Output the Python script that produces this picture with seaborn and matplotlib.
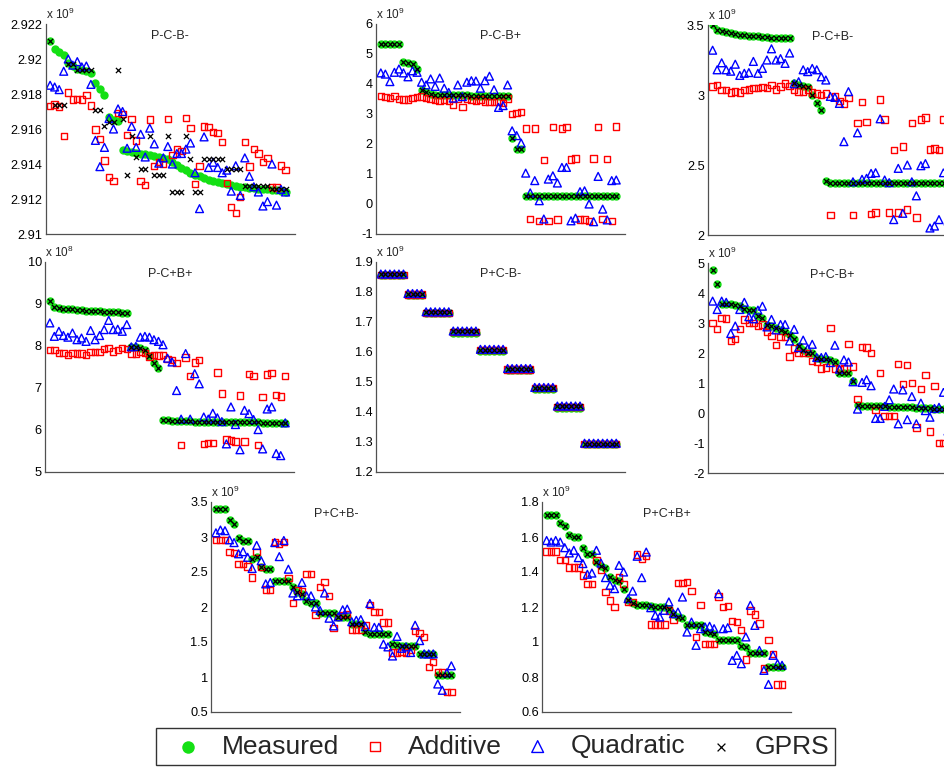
import numpy as np
import pandas as pd
import matplotlib
matplotlib.use('Agg')
import matplotlib.pyplot as plt
import seaborn as sns
from matplotlib.ticker import FuncFormatter

# configuration index on the x axis (53 configurations per panel)
config_index = list(range(1, 54))

# ---- P-C-B- (x 10^9) ----
meas1 = [2.92104, 2.92060, 2.92041, 2.92022, 2.91978, 2.91959, 2.91945, 2.91936, 2.91930, 2.91922,
         2.91863, 2.91830, 2.91792, 2.91668, 2.91653, 2.91645, 2.91480, 2.91475, 2.91470, 2.91465,
         2.91460, 2.91455, 2.91450, 2.91445, 2.91440, 2.91433, 2.91428, 2.91410, 2.91395, 2.91380,
         2.91365, 2.91350, 2.91340, 2.91330, 2.91320, 2.91310, 2.91305, 2.91300, 2.91290, 2.91285,
         2.91280, 2.91275, 2.91270, 2.91270, 2.91265, 2.91265, 2.91260, 2.91260, 2.91255, 2.91250,
         2.91250, 2.91245, 2.91240]
add1 = [2.91733, 2.91739, 2.91729, 2.91559, 2.91808, 2.91769, 2.91773, 2.91768, 2.91796, 2.91735,
        2.91597, 2.91544, 2.91419, 2.91324, 2.91304, 2.91693, 2.91685, 2.91567, 2.91657, 2.91534,
        2.91304, 2.91280, 2.91655, 2.91390, 2.91410, 2.91400, 2.91657, 2.91452, 2.91482, 2.91473,
        2.91664, 2.91607, 2.91285, 2.91387, 2.91614, 2.91610, 2.91582, 2.91576, 2.91524, 2.91293,
        2.91155, 2.91120, 2.91210, 2.91526, 2.91385, 2.91484, 2.91461, 2.91410, 2.91436, 2.91270,
        2.91266, 2.91392, 2.91366]
quad1 = [2.91850, 2.91840, 2.91825, 2.91930, 2.92000, 2.91965, 2.91985, 2.91955, 2.91960, 2.91855,
         2.91535, 2.91385, 2.91495, 2.91660, 2.91600, 2.91715, 2.91700, 2.91490, 2.91615, 2.91495,
         2.91570, 2.91440, 2.91605, 2.91515, 2.91405, 2.91435, 2.91500, 2.91400, 2.91460, 2.91460,
         2.91485, 2.91520, 2.91350, 2.91145, 2.91555, 2.91380, 2.91410, 2.91380, 2.91350, 2.91365,
         2.91245, 2.91390, 2.91220, 2.91435, 2.91330, 2.91270, 2.91240, 2.91160, 2.91185, 2.91400,
         2.91165, 2.91255, 2.91240]
gprs1 = [2.92104, 2.91735, 2.91735, 2.91735, 2.91970, 2.91970, 2.91935, 2.91935, 2.91935, 2.91935,
         2.91710, 2.91710, 2.91620, 2.91640, 2.91640, 2.91935, 2.91660, 2.91340, 2.91560, 2.91440,
         2.91370, 2.91370, 2.91560, 2.91340, 2.91340, 2.91340, 2.91560, 2.91240, 2.91240, 2.91240,
         2.91560, 2.91430, 2.91240, 2.91240, 2.91430, 2.91430, 2.91430, 2.91430, 2.91430, 2.91370,
         2.91370, 2.91370, 2.91370, 2.91275, 2.91275, 2.91275, 2.91275, 2.91275, 2.91275, 2.91255,
         2.91255, 2.91255, 2.91255]

# ---- P-C-B+ (x 10^9) ----
meas2 = [5.33, 5.33, 5.33, 5.33, 5.33, 4.72, 4.71, 4.66, 4.50, 3.81,
         3.72, 3.67, 3.64, 3.64, 3.63, 3.63, 3.63, 3.62, 3.62, 3.62,
         3.61, 3.61, 3.61, 3.60, 3.60, 3.60, 3.59, 3.59, 3.59, 2.19,
         1.83, 1.83, 0.26, 0.26, 0.26, 0.26, 0.26, 0.26, 0.26, 0.26,
         0.26, 0.26, 0.26, 0.26, 0.26, 0.26, 0.26, 0.26, 0.26, 0.26,
         0.26, 0.26, 0.26]
add2 = [3.59, 3.56, 3.53, 3.59, 3.50, 3.48, 3.48, 3.53, 3.56, 3.58,
        3.53, 3.50, 3.47, 3.44, 3.47, 3.44, 3.30, 3.50, 3.24, 3.50,
        3.47, 3.44, 3.48, 3.42, 3.39, 3.39, 3.42, 3.37, 3.52, 3.00,
        3.03, 3.06, 2.52, -0.50, 2.52, -0.56, 1.47, -0.56, 2.56, -0.52,
        2.52, 2.56, 1.48, 1.52, -0.52, -0.52, -0.56, 1.52, 2.56, -0.50,
        1.50, -0.56, 2.58]
quad2 = [4.37, 4.33, 4.08, 4.39, 4.50, 4.37, 4.24, 4.44, 4.39, 4.06,
         3.97, 4.17, 3.92, 4.20, 3.86, 3.72, 3.53, 3.97, 3.58, 4.06,
         4.11, 4.10, 3.86, 4.11, 4.26, 3.81, 3.22, 3.28, 3.97, 2.44,
         2.28, 2.03, 1.03, 0.37, 0.78, 0.11, -0.50, 0.83, 0.94, 0.70,
         1.22, 1.22, -0.56, -0.47, 0.41, 0.44, 0.00, -0.59, 0.92, -0.17,
         -0.53, 0.78, 0.80]
gprs2 = meas2  # GPRS sits on the measured values here

# ---- P-C+B- (x 10^9) ----
meas3 = [3.500, 3.464, 3.457, 3.448, 3.440, 3.436, 3.432, 3.428, 3.425, 3.420,
         3.418, 3.415, 3.413, 3.410, 3.410, 3.408, 3.406, 3.405, 3.088, 3.071,
         3.064, 3.060, 3.000, 2.945, 2.890, 2.386, 2.370, 2.370, 2.370, 2.370,
         2.370, 2.370, 2.370, 2.370, 2.370, 2.370, 2.370, 2.370, 2.370, 2.370,
         2.370, 2.370, 2.370, 2.370, 2.370, 2.370, 2.370, 2.370, 2.370, 2.370,
         2.370, 2.370, 2.370]
add3 = [3.060, 3.070, 3.036, 3.036, 3.017, 3.024, 3.017, 3.036, 3.040, 3.048,
        3.048, 3.055, 3.048, 3.070, 3.040, 3.060, 3.083, 3.064, 3.036, 3.024,
        3.024, 3.040, 3.017, 3.012, 3.000, 3.012, 2.143, 2.988, 2.957, 2.940,
        2.980, 2.143, 2.798, 2.952, 2.805, 2.148, 2.160, 2.969, 2.826, 2.160,
        2.607, 2.160, 2.631, 2.183, 2.802, 2.126, 2.826, 2.838, 2.612, 2.619,
        2.607, 2.826, 2.620]
quad3 = [3.320, 3.180, 3.230, 3.180, 3.170, 3.220, 3.140, 3.155, 3.160, 3.240,
         3.155, 3.190, 3.250, 3.330, 3.250, 3.260, 3.226, 3.300, 3.080, 3.095,
         3.180, 3.167, 3.190, 3.180, 3.130, 3.107, 2.990, 2.983, 2.940, 2.667,
         3.024, 2.380, 2.730, 2.398, 2.405, 2.440, 2.445, 2.830, 2.393, 2.374,
         2.110, 2.476, 2.155, 2.500, 2.380, 2.280, 2.495, 2.510, 2.050, 2.064,
         2.110, 2.445, 2.100]
gprs3 = meas3

# ---- P-C+B+ (x 10^8) ----
meas4 = [9.06, 8.93, 8.90, 8.89, 8.87, 8.89, 8.85, 8.85, 8.84, 8.84,
         8.83, 8.83, 8.82, 8.81, 8.80, 8.80, 8.79, 8.78, 7.98, 7.98,
         7.95, 7.90, 7.77, 7.60, 7.48, 6.25, 6.23, 6.22, 6.22, 6.21,
         6.21, 6.21, 6.20, 6.20, 6.20, 6.20, 6.19, 6.19, 6.19, 6.19,
         6.19, 6.18, 6.18, 6.18, 6.18, 6.18, 6.18, 6.17, 6.17, 6.17,
         6.17, 6.17, 6.17]
add4 = [7.91, 7.91, 7.83, 7.83, 7.79, 7.83, 7.82, 7.82, 7.79, 7.85,
        7.86, 7.86, 7.93, 7.95, 7.87, 7.91, 7.95, 7.93, 7.82, 7.82,
        7.85, 7.83, 7.75, 7.79, 7.77, 7.79, 7.69, 7.66, 7.60, 5.65,
        7.73, 7.29, 7.61, 7.67, 5.67, 5.69, 5.69, 7.37, 6.87, 5.77,
        5.75, 5.73, 6.82, 5.73, 7.34, 7.29, 5.65, 6.79, 7.32, 7.36,
        6.84, 6.80, 7.28]
quad4 = [8.55, 8.23, 8.35, 8.25, 8.21, 8.31, 8.15, 8.19, 8.11, 8.37,
         8.15, 8.25, 8.39, 8.61, 8.39, 8.40, 8.35, 8.51, 7.98, 7.99,
         8.21, 8.23, 8.21, 8.15, 8.11, 8.03, 7.71, 7.62, 6.94, 6.26,
         7.82, 6.26, 7.34, 7.10, 6.31, 6.26, 6.40, 6.29, 6.20, 5.67,
         6.55, 6.13, 5.53, 6.47, 6.39, 6.25, 6.01, 5.55, 6.50, 6.55,
         5.44, 5.39, 6.17]
gprs4 = meas4

# ---- P+C-B- (x 10^9), staircase where all four agree ----
meas5 = [1.856, 1.856, 1.856, 1.856, 1.856, 1.856, 1.791, 1.791, 1.791, 1.791,
         1.729, 1.729, 1.729, 1.729, 1.729, 1.729, 1.665, 1.665, 1.665, 1.665,
         1.665, 1.665, 1.604, 1.604, 1.604, 1.604, 1.604, 1.604, 1.540, 1.540,
         1.540, 1.540, 1.540, 1.540, 1.477, 1.477, 1.477, 1.477, 1.477, 1.415,
         1.415, 1.415, 1.415, 1.415, 1.415, 1.292, 1.292, 1.292, 1.292, 1.292,
         1.292, 1.292, 1.292]
add5 = [1.857, 1.857, 1.857, 1.857, 1.857, 1.857, 1.792, 1.792, 1.792, 1.792,
        1.731, 1.731, 1.731, 1.731, 1.731, 1.731, 1.667, 1.667, 1.667, 1.667,
        1.667, 1.667, 1.606, 1.606, 1.606, 1.606, 1.606, 1.606, 1.542, 1.542,
        1.542, 1.542, 1.542, 1.542, 1.479, 1.479, 1.479, 1.479, 1.479, 1.417,
        1.417, 1.417, 1.417, 1.417, 1.417, 1.293, 1.293, 1.293, 1.293, 1.293,
        1.293, 1.293, 1.293]
quad5 = [1.860, 1.860, 1.860, 1.860, 1.860, 1.860, 1.795, 1.795, 1.795, 1.795,
         1.734, 1.734, 1.734, 1.734, 1.734, 1.734, 1.670, 1.670, 1.670, 1.670,
         1.670, 1.670, 1.609, 1.609, 1.609, 1.609, 1.609, 1.609, 1.545, 1.545,
         1.545, 1.545, 1.545, 1.545, 1.482, 1.482, 1.482, 1.482, 1.482, 1.420,
         1.420, 1.420, 1.420, 1.420, 1.420, 1.296, 1.296, 1.296, 1.296, 1.296,
         1.296, 1.296, 1.296]
gprs5 = [1.859, 1.859, 1.859, 1.859, 1.859, 1.859, 1.794, 1.794, 1.794, 1.794,
         1.733, 1.733, 1.733, 1.733, 1.733, 1.733, 1.669, 1.669, 1.669, 1.669,
         1.669, 1.669, 1.608, 1.608, 1.608, 1.608, 1.608, 1.608, 1.544, 1.544,
         1.544, 1.544, 1.544, 1.544, 1.481, 1.481, 1.481, 1.481, 1.481, 1.419,
         1.419, 1.419, 1.419, 1.419, 1.419, 1.294, 1.294, 1.294, 1.294, 1.294,
         1.294, 1.294, 1.294]

# ---- P+C-B+ (x 10^9) ----
meas6 = [4.76, 4.30, 3.65, 3.62, 3.62, 3.60, 3.56, 3.47, 3.45, 3.42,
         3.25, 3.17, 2.95, 2.90, 2.84, 2.77, 2.71, 2.59, 2.46, 2.23,
         2.10, 2.01, 2.01, 1.85, 1.79, 1.79, 1.77, 1.70, 1.33, 1.33,
         1.33, 1.07, 0.27, 0.24, 0.24, 0.23, 0.23, 0.22, 0.22, 0.21,
         0.21, 0.20, 0.20, 0.19, 0.19, 0.18, 0.17, 0.17, 0.16, 0.15,
         0.14, 0.14, 0.13]
add6 = [2.99, 2.81, 3.17, 3.15, 2.40, 2.46, 2.79, 3.12, 3.01, 3.01,
        2.90, 2.95, 2.70, 2.57, 2.26, 2.54, 2.54, 1.88, 2.15, 2.01,
        1.99, 1.99, 1.74, 1.70, 1.48, 1.52, 2.84, 1.48, 1.46, 1.48,
        2.29, 1.55, 0.46, 2.21, 2.18, 2.01, 0.11, 1.33, -0.09, -0.09,
        -0.09, 1.63, 0.96, 1.59, 1.00, -0.48, 0.80, 1.26, -0.62, 0.91,
        -1.01, -1.01, -0.95]
quad6 = [3.73, 3.45, 3.73, 3.69, 2.65, 2.90, 3.45, 3.69, 3.21, 3.14,
         3.43, 3.56, 2.87, 3.12, 2.77, 2.95, 2.95, 2.40, 2.79, 2.18,
         2.43, 2.15, 2.29, 1.85, 1.85, 1.88, 1.68, 2.26, 1.46, 1.77,
         1.70, 1.04, 0.13, 1.02, 1.11, 0.91, -0.18, -0.18, 0.22, 0.44,
         0.80, -0.36, 0.77, -0.22, 0.55, -0.36, 0.33, 0.08, -0.14, 0.15,
         0.19, 0.69, -0.60]
gprs6 = meas6

# ---- P+C+B- (x 10^9) ----
meas7 = [3.40, 3.40, 3.40, 3.24, 3.18, 2.98, 2.95, 2.94, 2.69, 2.71,
         2.57, 2.54, 2.54, 2.37, 2.37, 2.37, 2.37, 2.28, 2.22, 2.19,
         2.08, 2.06, 2.06, 1.92, 1.92, 1.92, 1.92, 1.86, 1.86, 1.86,
         1.76, 1.76, 1.76, 1.65, 1.62, 1.62, 1.62, 1.62, 1.62, 1.47,
         1.46, 1.44, 1.44, 1.44, 1.44, 1.33, 1.33, 1.33, 1.33, 1.03,
         1.03, 1.03, 1.03]
add7 = [2.96, 2.96, 2.96, 2.79, 2.77, 2.61, 2.61, 2.58, 2.42, 2.79,
        2.57, 2.25, 2.24, 2.93, 2.90, 2.93, 2.41, 2.06, 2.24, 2.22,
        2.47, 2.47, 1.89, 2.29, 2.36, 2.16, 1.70, 1.86, 1.89, 1.90,
        1.68, 1.68, 1.68, 1.74, 2.03, 1.93, 1.93, 1.78, 1.78, 1.35,
        1.35, 1.36, 1.35, 1.39, 1.66, 1.63, 1.57, 1.14, 1.21, 1.07,
        1.07, 0.79, 0.79]
quad7 = [3.06, 3.10, 3.09, 2.96, 2.92, 2.76, 2.79, 2.71, 2.55, 2.88,
         2.66, 2.33, 2.35, 2.92, 2.72, 2.95, 2.54, 2.20, 2.16, 2.35,
         2.16, 2.16, 2.00, 1.95, 2.20, 1.84, 1.73, 1.86, 1.96, 1.97,
         1.79, 1.81, 1.82, 1.72, 2.05, 1.71, 1.71, 1.47, 1.43, 1.30,
         1.58, 1.41, 1.43, 1.35, 1.74, 1.52, 1.33, 1.33, 1.33, 0.90,
         0.81, 1.06, 1.16]
gprs7 = meas7

# ---- P+C+B+ (x 10^9) ----
meas8 = [1.724, 1.724, 1.724, 1.680, 1.661, 1.610, 1.600, 1.600, 1.539, 1.505,
         1.501, 1.457, 1.432, 1.425, 1.371, 1.352, 1.347, 1.305, 1.238, 1.223,
         1.210, 1.210, 1.210, 1.204, 1.200, 1.200, 1.200, 1.190, 1.158, 1.143,
         1.139, 1.095, 1.095, 1.095, 1.095, 1.057, 1.051, 1.048, 1.013, 1.013,
         1.013, 1.013, 1.013, 0.975, 0.971, 0.937, 0.937, 0.937, 0.937, 0.857,
         0.857, 0.857, 0.857]
add8 = [1.518, 1.518, 1.518, 1.470, 1.467, 1.425, 1.425, 1.425, 1.381, 1.333,
        1.330, 1.470, 1.410, 1.286, 1.238, 1.200, 1.371, 1.330, 1.229, 1.229,
        1.501, 1.476, 1.490, 1.101, 1.101, 1.101, 1.101, 1.181, 1.124, 1.337,
        1.337, 1.343, 1.291, 1.029, 1.210, 0.987, 0.987, 0.990, 1.261, 1.200,
        1.204, 1.120, 1.114, 1.067, 0.900, 1.181, 1.158, 1.105, 0.848, 1.013,
        0.930, 0.758, 0.758]
quad8 = [1.580, 1.571, 1.580, 1.571, 1.539, 1.509, 1.524, 1.482, 1.448, 1.387,
         1.394, 1.524, 1.451, 1.368, 1.324, 1.305, 1.438, 1.400, 1.248, 1.291,
         1.490, 1.368, 1.514, 1.196, 1.152, 1.143, 1.181, 1.229, 1.162, 1.171,
         1.257, 1.057, 1.114, 0.981, 1.076, 1.086, 1.090, 1.076, 1.276, 1.076,
         1.082, 0.895, 0.924, 0.876, 1.029, 1.210, 1.095, 0.952, 0.838, 0.758,
         0.924, 0.876, 0.867]
gprs8 = meas8

titles = ['P-C-B-', 'P-C-B+', 'P-C+B-', 'P-C+B+', 'P+C-B-', 'P+C-B+', 'P+C+B-', 'P+C+B+']
exponents = [9, 9, 9, 8, 9, 9, 9, 9]
y_ticks = [
    [2.91, 2.912, 2.914, 2.916, 2.918, 2.92, 2.922],
    [-1, 0, 1, 2, 3, 4, 5, 6],
    [2, 2.5, 3, 3.5],
    [5, 6, 7, 8, 9, 10],
    [1.2, 1.3, 1.4, 1.5, 1.6, 1.7, 1.8, 1.9],
    [-2, -1, 0, 1, 2, 3, 4, 5],
    [0.5, 1, 1.5, 2, 2.5, 3, 3.5],
    [0.6, 0.8, 1, 1.2, 1.4, 1.6, 1.8],
]
panel_series = [
    (meas1, add1, quad1, gprs1), (meas2, add2, quad2, gprs2),
    (meas3, add3, quad3, gprs3), (meas4, add4, quad4, gprs4),
    (meas5, add5, quad5, gprs5), (meas6, add6, quad6, gprs6),
    (meas7, add7, quad7, gprs7), (meas8, add8, quad8, gprs8),
]

sns.set_style('white')
plt.rcParams['font.family'] = ['Liberation Sans', 'DejaVu Sans']
plt.rcParams['mathtext.default'] = 'regular'

W, H = 945, 769
fig = plt.figure(figsize=(W / 100, H / 100), dpi=100)

# top-left corners of each axes in pixels (MATLAB subplot grid, last row centred)
corners = [(45.6, 24), (376.3, 24), (708.1, 25),
           (45.3, 262), (376.3, 262), (708.1, 263),
           (211.4, 502), (542.1, 502)]
ax_w, ax_h = 249, 210

green = '#14e014'
axis_grey = '#505050'
fmt = FuncFormatter(lambda v, pos: '%g' % round(v, 6))

for k, (title, series) in enumerate(zip(titles, panel_series)):
    left, top = corners[k]
    ax = fig.add_axes([left / W, 1 - (top + ax_h) / H, ax_w / W, ax_h / H])
    df = pd.DataFrame({'config': config_index, 'Measured': series[0], 'Additive': series[1],
                       'Quadratic': series[2], 'GPRS': series[3]})

    sns.scatterplot(data=df, x='config', y='Measured', ax=ax, marker='o', s=36,
                    color=green, edgecolor=green, linewidth=0, label='Measured', legend=False)
    sns.scatterplot(data=df, x='config', y='Additive', ax=ax, marker='s', s=21,
                    color='red', facecolor='none', edgecolor='red', linewidth=1.0,
                    label='Additive', legend=False)
    sns.scatterplot(data=df, x='config', y='Quadratic', ax=ax, marker='^', s=32,
                    color='blue', facecolor='none', edgecolor='blue', linewidth=1.0,
                    label='Quadratic', legend=False)
    sns.scatterplot(data=df, x='config', y='GPRS', ax=ax, marker='x', s=14,
                    color='black', linewidth=0.9, label='GPRS', legend=False)

    yt = y_ticks[k]
    ax.set_xlim(0, 55)
    ax.set_ylim(yt[0], yt[-1])
    ax.set_xticks([10, 20, 30, 40, 50])
    ax.set_yticks(yt)
    ax.yaxis.set_major_formatter(fmt)
    ax.set_xlabel('')
    ax.set_ylabel('')
    ax.tick_params(axis='x', direction='in', length=4, width=0.8, color=axis_grey,
                   labelbottom=False)
    ax.tick_params(axis='y', direction='in', length=0, pad=2.5, labelsize=9.2, labelcolor='black')
    for side in ['top', 'right']:
        ax.spines[side].set_visible(False)
    for side in ['left', 'bottom']:
        ax.spines[side].set_color(axis_grey)
        ax.spines[side].set_linewidth(0.9)
    ax.set_facecolor('white')

    ax.text(0.5, 1 - 12 / ax_h, title, transform=ax.transAxes, ha='center', va='center',
            fontsize=9)
    ax.text(0.0, 1 + 5 / ax_h, r'x 10$^{%d}$' % exponents[k], transform=ax.transAxes,
            ha='left', va='baseline', fontsize=8.5)

    if k == 0:
        handles, labels = ax.get_legend_handles_labels()

leg = fig.legend(handles, labels, loc='center', ncol=4, mode='expand',
                 bbox_to_anchor=(156 / W, 1 - 768 / H, 679 / W, 43 / H),
                 fontsize=19, handlelength=2.0, handletextpad=0.25, borderpad=0.23,
                 scatterpoints=1, markerscale=1.5, frameon=True, fancybox=False,
                 borderaxespad=0)
leg.get_frame().set_edgecolor('black')
leg.get_frame().set_linewidth(1.0)

fig.savefig('out.png', dpi=100)
